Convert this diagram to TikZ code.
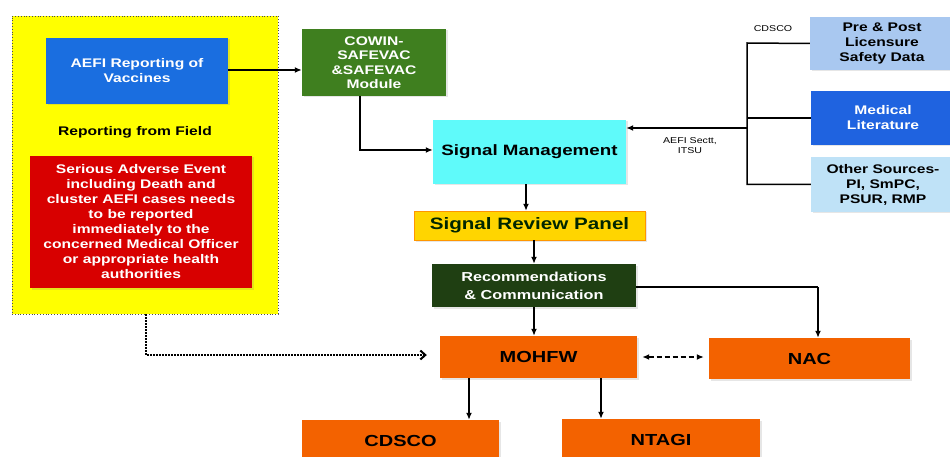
\documentclass[tikz,border=0pt]{standalone}
\usepackage{fontspec}
\setmainfont{Liberation Sans}[FakeStretch=1.25]
\usetikzlibrary{shadows,arrows.meta}

\definecolor{fieldyellow}{RGB}{255,255,0}
\definecolor{aefiblue}{RGB}{26,110,224}
\definecolor{alertred}{RGB}{216,0,0}
\definecolor{cowingreen}{RGB}{63,127,31}
\definecolor{signalcyan}{RGB}{95,250,250}
\definecolor{reviewgold}{RGB}{255,213,0}
\definecolor{reviewedge}{RGB}{255,150,0}
\definecolor{recomgreen}{RGB}{31,63,18}
\definecolor{mohorange}{RGB}{243,98,0}
\definecolor{prelight}{RGB}{169,200,240}
\definecolor{litblue}{RGB}{31,99,224}
\definecolor{otherlight}{RGB}{191,226,247}

\tikzset{
  box/.style={inner sep=2pt, align=center, text=white,
    font=\bfseries\fontsize{12.5}{15}\selectfont,
    drop shadow={opacity=0.2, shadow xshift=1.5pt, shadow yshift=-1.5pt}},
  orangebox/.style={box, fill=mohorange, text=black,
    font=\bfseries\fontsize{16}{19}\selectfont},
  sourcebox/.style={box, minimum width=144pt, text=black,
    font=\bfseries\fontsize{12.5}{15}\selectfont},
  link/.style={line width=1.5pt},
  arr/.style={link, -{Latex[length=7pt,width=6pt]}},
  smalllbl/.style={font=\fontsize{8.5}{10}\selectfont, align=center},
}

\begin{document}
\begin{tikzpicture}[x=1pt,y=-1pt]
		\useasboundingbox (0,0) rectangle (950,457);
		\coordinate (f) at (145,165);
		\coordinate (a) at (137,71);
		\coordinate (r) at (141,222);
		\coordinate (c) at (374,62.5);
		\coordinate (sm) at (529.5,152);
		\coordinate (sr) at (529.5,225.5);
		\coordinate (rc) at (534,285.5);
		\coordinate (m) at (538.5,357);
		\coordinate (n) at (809.5,358.5);
		\coordinate (cd) at (400.5,441);
		\coordinate (nt) at (661,440);
		\coordinate (p) at (882,43.5);
		\coordinate (ml) at (883,118);
		\coordinate (os) at (883,184.5);
		\node[draw=black!70,dotted,thick,fill=fieldyellow,minimum width=266pt,minimum height=298pt] (field) at (f) {};
		\node[box,fill=aefiblue,minimum width=182pt,minimum height=66pt] (aefi) at (a) {AEFI Reporting of\\Vaccines};
		\node[font=\bfseries\fontsize{12.5}{15}\selectfont] (fieldlbl) at (135,132) {Reporting from Field};
		\node[box,fill=alertred,minimum width=222pt,minimum height=132pt] (serious) at (r) {Serious Adverse Event\\including Death and\\cluster AEFI cases needs\\to be reported\\immediately to the\\concerned Medical Officer\\or appropriate health\\authorities};
		\node[box,fill=cowingreen,minimum width=144pt,minimum height=67pt,font=\bfseries\fontsize{12.5}{14.5}\selectfont] (cowin) at (c) {COWIN-\\SAFEVAC\\\&SAFEVAC\\Module};
		\node[box,fill=signalcyan,text=black,minimum width=193pt,minimum height=64pt,font=\bfseries\fontsize{15}{18}\selectfont] (sigman) at (sm) {Signal Management};
		\node[box,fill=reviewgold,draw=reviewedge,text=black!85!green,minimum width=231pt,minimum height=29pt,font=\bfseries\fontsize{16.5}{19}\selectfont] (review) at (sr) {Signal Review Panel};
		\node[box,fill=recomgreen,minimum width=204pt,minimum height=43pt,font=\bfseries\fontsize{13}{18}\selectfont] (recom) at (rc) {Recommendations\\\& Communication};
		\node[orangebox,minimum width=197pt,minimum height=42pt] (mohfw) at (m) {MOHFW};
		\node[orangebox,minimum width=201pt,minimum height=41pt] (nac) at (n) {NAC};
		\node[orangebox,minimum width=197pt,minimum height=42pt] (cdsco) at (cd) {CDSCO};
		\node[orangebox,minimum width=198pt,minimum height=42pt] (ntagi) at (nt) {NTAGI};
		\node[sourcebox,fill=prelight,minimum height=53pt] (pre) at (p) {Pre \& Post\\Licensure\\Safety Data};
		\node[sourcebox,fill=litblue,text=white,minimum height=54pt] (medlit) at (ml) {Medical\\Literature};
		\node[sourcebox,fill=otherlight,minimum height=55pt] (other) at (os) {Other Sources-\\PI, SmPC,\\PSUR, RMP};
		\node[smalllbl] (cdscolbl) at (773,29) {CDSCO};
		\node[smalllbl] (sectt) at (690,146) {AEFI Sectt,\\ITSU};
		\coordinate (brk) at (747,43);
		\coordinate (src) at (747,128);
		\coordinate (cw) at (360,96);
		\coordinate (mc) at (469,378);
		\coordinate (mn) at (601,378);
		\coordinate (nc) at (818,287);
		\draw[arr] (aefi.east |- 0,70) -- (cowin.west |- 0,70);
		\draw[arr] (cw) |- (sigman.west |- 0,150);
		\draw[link] (pre.west) -- (brk) |- (other.west);
		\draw[link] (medlit.west) -- (medlit.west -| brk);
		\draw[arr] (src) -- (sigman.east |- src);
		\draw[arr] (sigman.south -| 526,0) -- (review.north -| 526,0);
		\draw[arr] (review.south -| 534,0) -- (recom.north -| 534,0);
		\draw[arr] (recom.south -| 534,0) -- (mohfw.north -| 534,0);
		\draw[link] (recom.east |- nc) -- (nc);
		\draw[arr] (nc) -- (nac.north -| nc);
		\draw[line width=2pt,dash pattern=on 5pt off 3pt,{Latex[length=7pt,width=6pt]}-{Latex[length=7pt,width=6pt]}] ([xshift=5pt]mohfw.east) -- ([xshift=-5pt]nac.west |- mohfw.east);
		\draw[line width=2pt,dash pattern=on 1.5pt off 1.5pt,-{Straight Barb[length=5pt,width=9pt]}] (field.south -| 146,0) |- ([xshift=-13pt]mohfw.west |- 0,355);
		\draw[arr] (mc) -- (cdsco.north -| mc);
		\draw[arr] (mn) -- (ntagi.north -| mn);
	\end{tikzpicture}
\end{document}
